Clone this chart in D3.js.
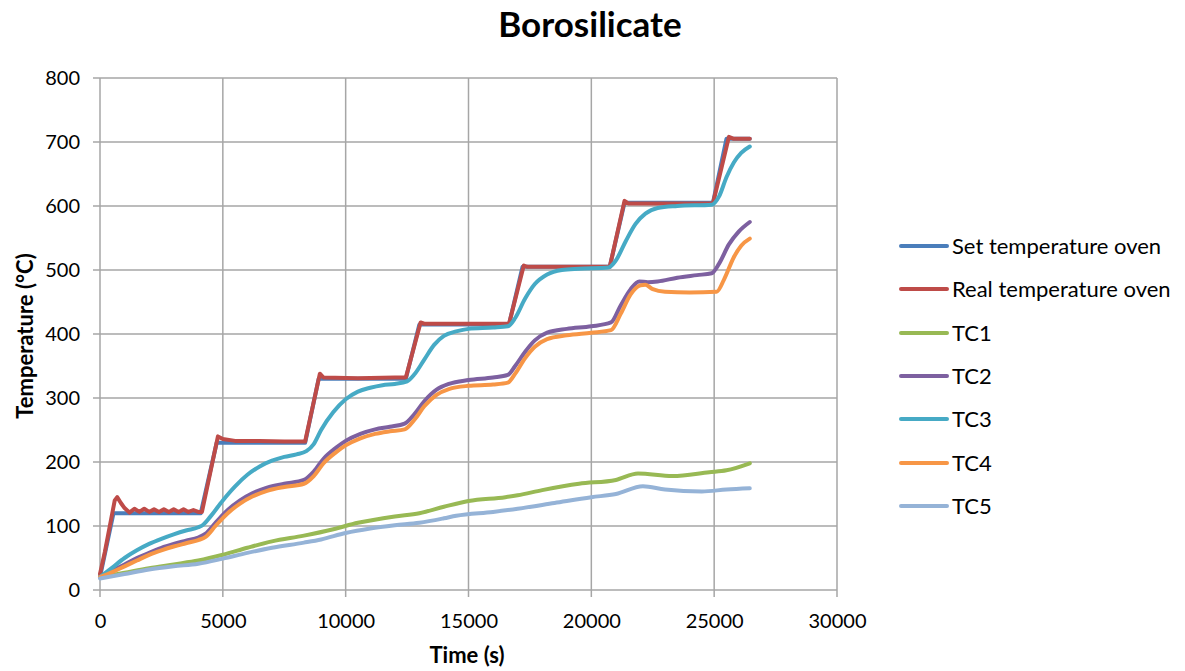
<!DOCTYPE html>
<html>
<head>
<meta charset="utf-8">
<script src="https://cdn.jsdelivr.net/npm/d3@7"></script>
<style>
  body { margin: 0; background: #fff; }
  svg text { font-family: Lato, "Open Sans", sans-serif; fill: #000; }
</style>
</head>
<body>
<div id="chart"></div>
<script>
// 축 눈금
const xTicks = [0, 5000, 10000, 15000, 20000, 25000, 30000];
const yTicks = [0, 100, 200, 300, 400, 500, 600, 700, 800];

// 시리즈 데이터 [시간(s), 온도(°C)] - 그림에서 읽은 값
const setOven = [[0,20],[550,120],[4100,120],[4750,230],[8350,230],[8900,330],[12450,330],[13000,415],
  [16650,415],[17200,505],[20750,505],[21350,605],[24950,605],[25500,705],[26450,705]];

const realOven = [[0,25],[200,60],[450,110],[600,140],[700,145],[850,136],[1000,128],[1200,121],[1400,127],
  [1600,122],[1800,127],[2000,122],[2200,126],[2400,122],[2600,126],[2800,122],[3000,126],[3200,122],
  [3400,126],[3600,122],[3800,125],[4000,122],[4150,122],[4800,240],[5000,236],[5500,233],[6500,233],
  [7500,232],[8350,232],[8950,338],[9100,332],[10500,331],[12000,332],[12450,332],[13050,418],[13200,416],
  [16650,416],[17250,507],[17400,505],[20750,505],[21350,608],[21500,604],[24950,604],[25600,708],
  [25800,705],[26450,705]];

const tc1 = [[0,20],[1000,27],[2000,34],[3000,40],[4000,46],[5000,55],[6000,66],[7000,76],[8300,85],
  [9500,95],[10500,105],[12000,115],[13000,120],[14000,130],[15000,139],[16500,145],[17000,148],
  [18000,156],[19500,166],[21000,172],[21900,182],[23300,178],[24800,184],[25500,187],[26450,198]];

const tc2 = [[0,20],[500,30],[1000,40],[1500,50],[2000,58],[2500,66],[3000,72],[3500,77],[4000,82],
  [4300,88],[4700,105],[5200,125],[5700,140],[6200,151],[6800,160],[7500,166],[8300,172],[8700,185],
  [9100,205],[9600,222],[10000,233],[10600,244],[11200,251],[11800,255],[12400,260],[12800,275],
  [13200,295],[13700,313],[14200,322],[15000,328],[16000,332],[16600,336],[16900,350],[17300,372],
  [17700,390],[18200,402],[19000,408],[20000,412],[20800,418],[21200,445],[21600,470],[21950,482],
  [22300,481],[22700,482],[23500,488],[24300,492],[24900,495],[25200,510],[25600,540],[26000,560],
  [26450,575]];

const tc3 = [[0,20],[500,35],[1000,50],[1500,62],[2000,72],[2500,80],[3000,87],[3500,93],[4000,98],
  [4200,102],[4500,115],[5000,140],[5500,162],[6000,180],[6500,193],[7000,202],[7500,208],[8000,212],
  [8400,217],[8700,228],[9000,250],[9500,278],[10000,298],[10500,310],[11000,316],[11500,320],
  [12000,322],[12500,326],[12800,337],[13200,360],[13600,383],[14000,397],[14500,404],[15000,408],
  [16000,410],[16600,412],[16900,425],[17300,455],[17700,478],[18200,493],[18800,500],[19500,502],
  [20700,504],[21000,515],[21400,545],[21800,572],[22200,588],[22700,597],[23500,600],[24900,602],
  [25200,615],[25500,645],[25800,668],[26100,683],[26450,693]];

const tc4 = [[0,20],[500,28],[1000,37],[1500,46],[2000,55],[2500,62],[3000,68],[3500,73],[4000,78],
  [4300,83],[4700,100],[5200,120],[5700,135],[6200,146],[6800,155],[7500,161],[8300,166],[8700,178],
  [9100,198],[9600,215],[10000,226],[10600,237],[11200,244],[11800,248],[12400,251],[12800,266],
  [13200,287],[13700,305],[14200,314],[15000,319],[16000,321],[16600,324],[16900,338],[17300,362],
  [17700,380],[18200,392],[19000,398],[20000,402],[20800,406],[21200,432],[21600,462],[22000,476],
  [22200,477],[22500,470],[23000,466],[24000,465],[25100,466],[25400,485],[25800,520],[26100,538],
  [26450,549]];

const tc5 = [[0,18],[1000,25],[2000,32],[3000,37],[4000,41],[5000,49],[6000,58],[7000,66],[8300,74],
  [9000,79],[10000,89],[11000,96],[12000,101],[13000,105],[14000,112],[14500,116],[16000,122],
  [17000,127],[18500,136],[20000,145],[21000,150],[22100,162],[23000,157],[24500,154],[25500,157],
  [26450,159]];

const seriesNames = ["Set temperature oven", "Real temperature oven", "TC1", "TC2", "TC3", "TC4", "TC5"];
const seriesData = [setOven, realOven, tc1, tc2, tc3, tc4, tc5];
const seriesColors = ["#4a7ebb", "#be4b48", "#98b954", "#7d60a0", "#46aac5", "#f79646", "#95b3d7"];

const width = 1185, height = 671;
const margin = { left: 100, right: 348, top: 78, bottom: 81 };

const svg = d3.select("#chart").append("svg")
  .attr("width", width)
  .attr("height", height);

const xScale = d3.scaleLinear().domain([0, 30000]).range([margin.left, width - margin.right]);
const yScale = d3.scaleLinear().domain([0, 800]).range([height - margin.bottom, margin.top]);

// 그리드
svg.append("g")
  .selectAll("line.h")
  .data(yTicks)
  .enter().append("line")
  .attr("x1", margin.left - 7).attr("x2", width - margin.right)
  .attr("y1", d => yScale(d)).attr("y2", d => yScale(d))
  .attr("stroke", "#a6a6a6").attr("stroke-width", 1.5);

svg.append("g")
  .selectAll("line.v")
  .data(xTicks)
  .enter().append("line")
  .attr("x1", d => xScale(d)).attr("x2", d => xScale(d))
  .attr("y1", margin.top).attr("y2", height - margin.bottom + 7)
  .attr("stroke", "#a6a6a6").attr("stroke-width", 1.5);

// 축 라벨
const yAxis = svg.append("g")
  .attr("transform", `translate(${margin.left}, 0)`)
  .call(d3.axisLeft(yScale).tickValues(yTicks).tickSize(0).tickPadding(20));
yAxis.select(".domain").remove();
yAxis.selectAll("text").attr("font-size", "20px").attr("fill", "#000")
  .style("font-family", "Lato, 'Open Sans', sans-serif");

const xAxis = svg.append("g")
  .attr("transform", `translate(0, ${height - margin.bottom})`)
  .call(d3.axisBottom(xScale).tickValues(xTicks).tickSize(0).tickPadding(20).tickFormat(d3.format("d")));
xAxis.select(".domain").remove();
xAxis.selectAll("text").attr("font-size", "20px").attr("fill", "#000")
  .attr("y", 38).attr("dy", 0)
  .style("font-family", "Lato, 'Open Sans', sans-serif");

// 시리즈 선
const line = d3.line().x(d => xScale(d[0])).y(d => yScale(d[1]));
const smoothLine = d3.line().x(d => xScale(d[0])).y(d => yScale(d[1])).curve(d3.curveMonotoneX);

seriesData.forEach((data, i) => {
  svg.append("path")
    .datum(data)
    .attr("fill", "none")
    .attr("stroke", seriesColors[i])
    .attr("stroke-width", 4)
    .attr("stroke-linejoin", "round")
    .attr("stroke-linecap", "round")
    .attr("d", i < 2 ? line : smoothLine);
});

// 제목
svg.append("text")
  .attr("x", 590).attr("y", 37)
  .attr("text-anchor", "middle")
  .attr("font-size", "35px")
  .attr("font-weight", "bold")
  .text("Borosilicate");

svg.append("text")
  .attr("x", 467).attr("y", 663)
  .attr("text-anchor", "middle")
  .attr("font-size", "22px")
  .attr("font-weight", "bold")
  .text("Time (s)");

svg.append("text")
  .attr("transform", "translate(33, 336) rotate(-90)")
  .attr("text-anchor", "middle")
  .attr("font-size", "22px")
  .attr("font-weight", "bold")
  .text("Temperature (°C)");

// 범례
const legend = svg.append("g");
const legendY = [246, 289, 333, 376, 419, 463, 506];
seriesNames.forEach((name, i) => {
  legend.append("line")
    .attr("x1", 901).attr("x2", 947)
    .attr("y1", legendY[i]).attr("y2", legendY[i])
    .attr("stroke", seriesColors[i])
    .attr("stroke-width", 4)
    .attr("stroke-linecap", "round");
  legend.append("text")
    .attr("x", 952).attr("y", legendY[i])
    .attr("dy", "0.35em")
    .attr("font-size", "22px")
    .text(name);
});
</script>
</body>
</html>
